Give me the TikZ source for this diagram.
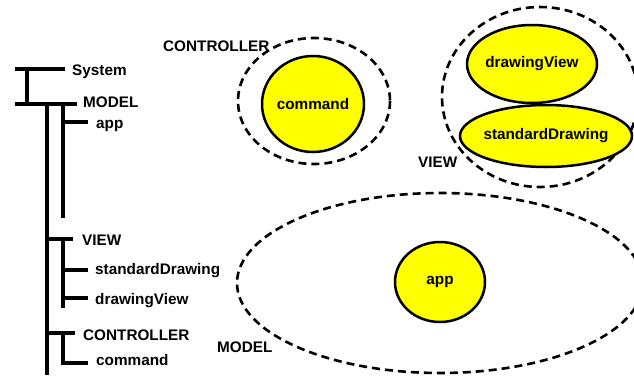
\documentclass[tikz,border=0pt]{standalone}
\usepackage{fontspec}
\setmainfont{Liberation Sans}
\usetikzlibrary{shapes.geometric}
\definecolor{fillyellow}{RGB}{255,255,0}
\begin{document}
\begin{tikzpicture}[x=1pt,y=-1pt,
  tree/.style={line width=4.5pt,line cap=butt,line join=miter},
  group/.style={draw,line width=2.6pt,dash pattern=on 8pt off 5pt},
  part/.style={draw,fill=fillyellow,line width=2.5pt,ellipse,inner xsep=-20pt,inner ysep=0pt,
    font=\fontsize{15.3}{17}\selectfont\bfseries},
  lbl/.style={anchor=base west,inner sep=0pt,font=\fontsize{15.3}{17}\selectfont\bfseries}]
\useasboundingbox (0,0) rectangle (634,375);

% package tree
\draw[tree] (15,69) -- (65,69);
\draw[tree] (27,69) -- (27,104);
\draw[tree] (15,104) -- (77,104);
\draw[tree] (47,104) -- (47,375);
\draw[tree] (63,104) -- (63,218);
\draw[tree] (63,122) -- (88,122);
\draw[tree] (47,239) -- (73,239);
\draw[tree] (63,239) -- (63,308);
\draw[tree] (63,270) -- (88,270);
\draw[tree] (63,298) -- (88,298);
\draw[tree] (47,333) -- (75,333);
\draw[tree] (63,333) -- (63,363) -- (88,363);

\node[lbl] (tSystem) at (72,75) {System};
\node[lbl] (tModel) at (83,107) {MODEL};
\node[lbl] (tApp) at (96,128) {app};
\node[lbl] (tView) at (82,245) {VIEW};
\node[lbl] (tStd) at (95,274) {standardDrawing};
\node[lbl] (tDrw) at (95,304) {drawingView};
\node[lbl] (tCtl) at (83,340) {CONTROLLER};
\node[lbl] (tCmd) at (96,365) {command};

% package groups
\draw[group] (314,101) ellipse [x radius=76,y radius=63];
\draw[group] (540,97) ellipse [x radius=98,y radius=90];
\draw[group] (440,283) ellipse [x radius=203,y radius=90];

\node[lbl] (gCtl) at (163,51) {CONTROLLER};
\node[lbl] (gView) at (418,167) {VIEW};
\node[lbl] (gModel) at (217,352) {MODEL};

% classes
\node[part,minimum width=102pt,minimum height=96pt] (command) at (313,104) {command};
\node[part,minimum width=130pt,minimum height=78pt] (drawingView) at (532,64) {drawingView};
\node[part,minimum width=172pt,minimum height=62pt] (standardDrawing) at (546,136) {standardDrawing};
\node[part,minimum width=90pt,minimum height=80pt] (app) at (440,282) {app};
\end{tikzpicture}
\end{document}
